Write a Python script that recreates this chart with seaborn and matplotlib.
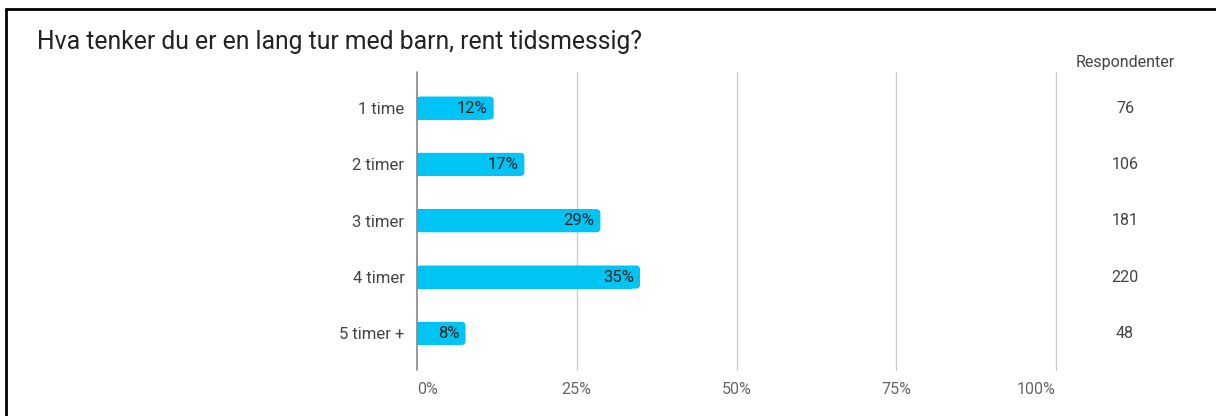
import matplotlib
matplotlib.use("Agg")
import matplotlib.pyplot as plt
import seaborn as sns
import pandas as pd
from matplotlib.patches import FancyBboxPatch
from matplotlib.lines import Line2D

categories = ["1 time", "2 timer", "3 timer", "4 timer", "5 timer +"]
percent = [12.0, 16.8, 28.7, 34.9, 7.6]
pct_labels = ["12%", "17%", "29%", "35%", "8%"]
respondents = [76, 106, 181, 220, 48]
x_ticks = [0, 25, 50, 75, 100]
x_tick_labels = ["0%", "25%", "50%", "75%", "100%"]

title = "Hva tenker du er en lang tur med barn, rent tidsmessig?"
resp_header = "Respondenter"

bar_color = "#00C4F4"

sns.set_style("white")
plt.rcParams["font.family"] = ["Roboto", "DejaVu Sans"]

W, H = 1216, 416
fig = plt.figure(figsize=(W / 100, H / 100), dpi=100)
ax_left, ax_right = 417, 1056
ax_top, ax_bottom = 72, 370
ax = fig.add_axes([ax_left / W, 1 - ax_bottom / H, (ax_right - ax_left) / W, (ax_bottom - ax_top) / H])

df = pd.DataFrame({"cat": categories, "pct": percent})
sns.barplot(data=df, x="pct", y="cat", orient="h", color=bar_color, width=0.41,
            saturation=1, ax=ax, zorder=3)

ax.set_xlim(0, 100)
ax.set_ylim(4.65, -0.64)

# rounded bar ends
px_x = 100 / (ax_right - ax_left)
px_y = (4.65 + 0.64) / (ax_bottom - ax_top)
r = 4 * px_x
for p in ax.patches[:len(categories)]:
    x0, y0 = p.get_x(), p.get_y()
    w, h = p.get_width(), p.get_height()
    p.set_width(max(w - 2 * r, 0))
    p.set_linewidth(0)
    fb = FancyBboxPatch((x0, y0), w, h, boxstyle=f"round,pad=0,rounding_size={r}",
                        mutation_aspect=px_y / px_x, facecolor=bar_color,
                        edgecolor="none", zorder=3)
    ax.add_patch(fb)

# percentage labels inside bars
for i, (v, lab) in enumerate(zip(percent, pct_labels)):
    ax.text(v - 6 * px_x, i, lab, ha="right", va="center", fontsize=12,
            color="#222222", zorder=4)

# respondent column
resp_x = (1125 - ax_left) * px_x
for i, n in enumerate(respondents):
    ax.text(resp_x, i, str(n), ha="center", va="center", fontsize=11.5,
            color="#444444", clip_on=False)
ax.text(resp_x, -0.64 - 9 * px_y, resp_header, ha="center", va="center",
        fontsize=11.5, color="#444444", clip_on=False)

# grid
for t in x_ticks[1:]:
    ax.axvline(t, color="#cccccc", lw=1, zorder=1, clip_on=False)
ax.axvline(0, color="#888888", lw=1.2, zorder=5, clip_on=False)

ax.set_xticks(x_ticks)
ax.set_xticklabels(x_tick_labels)
ax.tick_params(axis="x", length=0, pad=9, labelsize=11.5, labelcolor="#666666")
ax.tick_params(axis="y", length=0, pad=9, labelsize=12, labelcolor="#444444")
xl = ax.get_xticklabels()
xl[0].set_horizontalalignment("left")
xl[-1].set_horizontalalignment("right")
ax.set_xlabel("")
ax.set_ylabel("")
for s in ax.spines.values():
    s.set_visible(False)

fig.text(37 / W, 1 - 42 / H, title, ha="left", va="center", fontsize=17.8, color="#222222")

# outer frame (top and left)
fig.add_artist(Line2D([6 / W, 1], [1 - 9 / H, 1 - 9 / H], color="black", lw=2, transform=fig.transFigure))
fig.add_artist(Line2D([6 / W, 6 / W], [0, 1 - 9 / H], color="black", lw=2, transform=fig.transFigure))

fig.savefig("out.png", dpi=100)
